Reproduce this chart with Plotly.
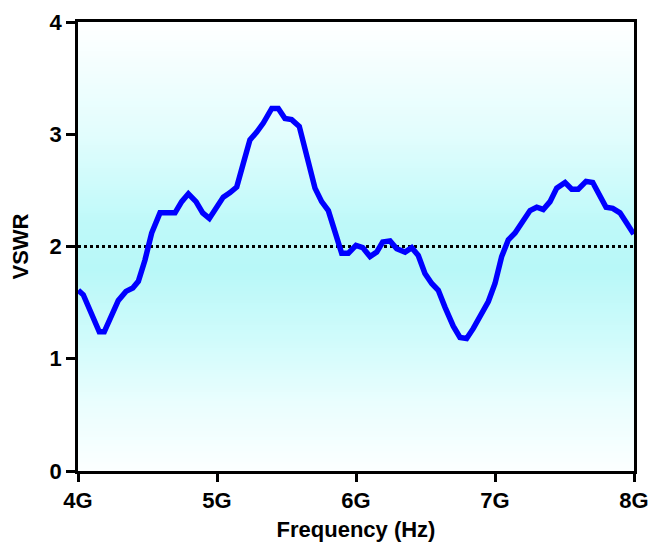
import numpy as np
import plotly.graph_objects as go

# Frequency (GHz) and VSWR values
freq_ghz = [4.002, 4.038, 4.153, 4.189, 4.290, 4.345, 4.394, 4.434, 4.482, 4.530,
            4.590, 4.638, 4.698, 4.746, 4.794, 4.849, 4.897, 4.945, 4.998, 5.045,
            5.094, 5.142, 5.189, 5.237, 5.286, 5.333, 5.394, 5.441, 5.489, 5.537,
            5.592, 5.645, 5.705, 5.753, 5.801, 5.849, 5.897, 5.945, 6.000, 6.048,
            6.101, 6.149, 6.192, 6.245, 6.293, 6.353, 6.401, 6.448, 6.496, 6.545,
            6.592, 6.640, 6.700, 6.748, 6.796, 6.844, 6.892, 6.952, 7.000, 7.048,
            7.096, 7.144, 7.192, 7.252, 7.300, 7.347, 7.396, 7.444, 7.504, 7.552,
            7.599, 7.655, 7.703, 7.750, 7.799, 7.847, 7.899, 7.947, 7.998]
vswr = [1.61, 1.57, 1.24, 1.24, 1.52, 1.60, 1.63, 1.69, 1.88, 2.12,
        2.30, 2.30, 2.30, 2.40, 2.47, 2.40, 2.30, 2.25, 2.35, 2.44,
        2.48, 2.53, 2.74, 2.95, 3.02, 3.10, 3.23, 3.23, 3.14, 3.13,
        3.07, 2.82, 2.52, 2.40, 2.32, 2.13, 1.94, 1.94, 2.01, 1.99,
        1.91, 1.95, 2.04, 2.05, 1.98, 1.95, 1.99, 1.92, 1.76, 1.67,
        1.61, 1.46, 1.29, 1.19, 1.18, 1.27, 1.38, 1.51, 1.67, 1.91,
        2.06, 2.12, 2.21, 2.32, 2.35, 2.33, 2.40, 2.52, 2.57, 2.51,
        2.51, 2.58, 2.57, 2.46, 2.35, 2.34, 2.30, 2.21, 2.11]
freq_hz = [f * 1e9 for f in freq_ghz]

threshold = 2.0
x_tickvals = [4e9, 5e9, 6e9, 7e9, 8e9]
x_ticktext = ["4G", "5G", "6G", "7G", "8G"]
y_tickvals = [0, 1, 2, 3, 4]

font_family = "Liberation Sans, Arial, sans-serif"

# background gradient (styling)
edges = np.linspace(0, 4, 201)
centers = (edges[:-1] + edges[1:]) / 2
bg = go.Heatmap(
    x=[4e9, 8e9], y=edges, z=[[c] for c in centers],
    zmin=0, zmax=4,
    colorscale=[[0.0, "#fcffff"], [0.15, "#eafefe"], [0.3, "#cffbfb"],
                [0.45, "#b8f8f8"], [0.55, "#bef9f9"], [0.75, "#e2fdfd"],
                [1.0, "#ffffff"]],
    showscale=False, hoverinfo="skip")

line = go.Scatter(x=freq_hz, y=vswr, mode="lines",
                  line=dict(color="#0000ff", width=5.5), showlegend=False)

thr = go.Scatter(x=[4e9, 8e9], y=[threshold, threshold], mode="lines",
                 line=dict(color="black", width=3, dash="dot"), showlegend=False)

fig = go.Figure([bg, thr, line])
fig.update_layout(
    width=651, height=542,
    margin=dict(l=78, r=17, t=22, b=71),
    paper_bgcolor="white", plot_bgcolor="white",
    font=dict(family=font_family, size=22, color="black"),
    showlegend=False,
)
fig.update_xaxes(
    range=[4e9, 8e9], tickvals=x_tickvals, ticktext=x_ticktext, automargin=False,
    showgrid=False, zeroline=False, showline=True, linecolor="black", linewidth=2.5,
    mirror=True, ticks="outside", ticklen=8, tickwidth=2.5, tickcolor="black",
    tickfont=dict(family=font_family, size=22, weight="bold"),
    title=dict(text="<b>Frequency (Hz)</b>",
               font=dict(family=font_family, size=22)),
)
fig.update_yaxes(
    range=[0, 4], tickvals=y_tickvals, automargin=False,
    showgrid=False, zeroline=False, showline=True, linecolor="black", linewidth=2.5,
    mirror=True, ticks="outside", ticklen=9, tickwidth=2.5, tickcolor="black",
    tickfont=dict(family=font_family, size=22, weight="bold"),
    title=dict(text="<b>VSWR</b>",
               font=dict(family=font_family, size=22)),
)
fig.write_html("out.html")
